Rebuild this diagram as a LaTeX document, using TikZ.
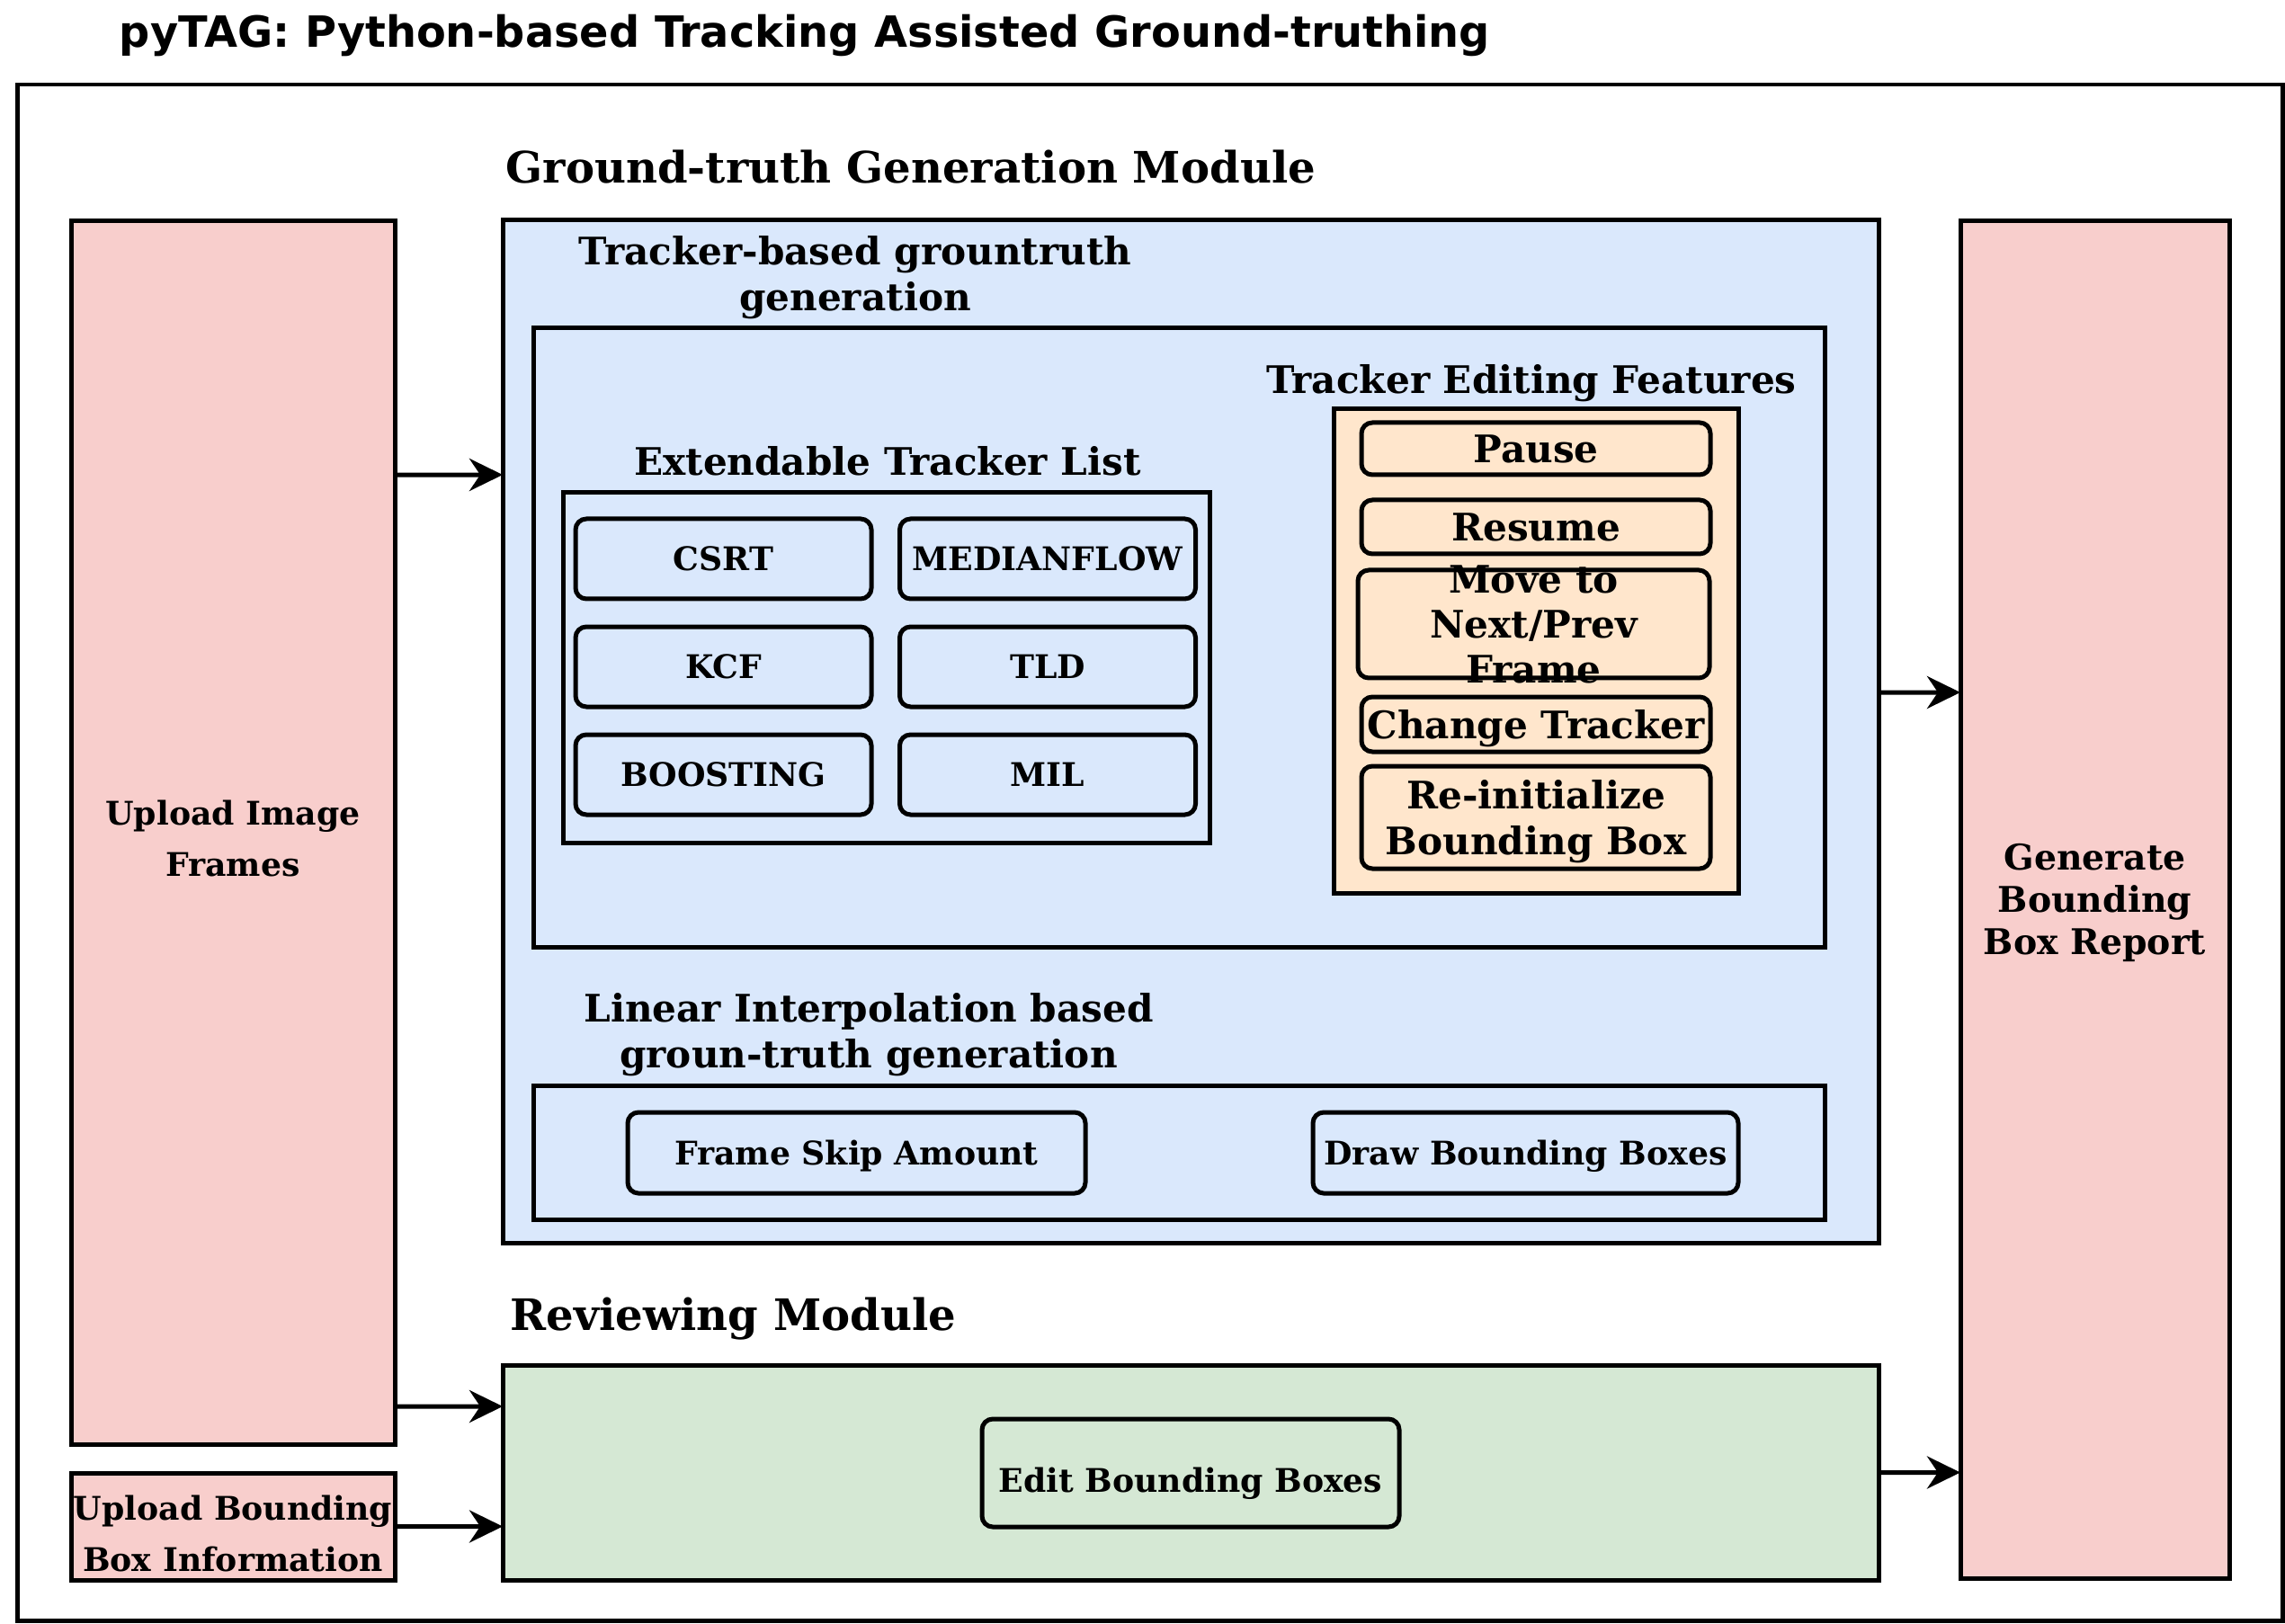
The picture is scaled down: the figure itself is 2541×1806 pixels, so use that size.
\documentclass[tikz,border=0pt]{standalone}
\usepackage{fontspec}
\setmainfont{DejaVu Serif}
\newfontfamily\titlefont{DejaVu Sans}
\usetikzlibrary{arrows.meta}
\definecolor{gtblue}{HTML}{DAE8FC}
\definecolor{iopink}{HTML}{F8CECC}
\definecolor{editpeach}{HTML}{FFE6CC}
\definecolor{revgreen}{HTML}{D5E8D4}
\begin{document}
\begin{tikzpicture}[x=0.1mm,y=-0.1mm,
    box/.style={draw,line width=0.5mm,inner sep=0pt,outer sep=0pt,align=center,text depth=0pt},
    btn/.style={box,rounded corners=1.2mm},
    lbl/.style={inner sep=0pt,align=center,text depth=0pt},
    arr/.style={line width=0.5mm,-{Stealth[length=3.7mm,width=3.6mm,inset=1.2mm]}},
    bigfont/.style={font=\bfseries\fontsize{13.7}{16.5}\selectfont},
    midfont/.style={font=\bfseries\fontsize{12}{14.3}\selectfont},
    smallfont/.style={font=\bfseries\fontsize{10.3}{12.5}\selectfont}]
  \useasboundingbox (0,0) rectangle (2541,1806);
  \node[inner sep=0pt,anchor=base,font=\titlefont\bfseries\fontsize{13.6}{16}\selectfont] (title) at (895,53) {pyTAG: Python-based Tracking Assisted Ground-truthing};
  \node[box,minimum width=251.9mm,minimum height=170.8mm] (frame) at (1278.5,948) {};
  \node[lbl,bigfont,anchor=west] (gtlbl) at (562,185) {Ground-truth Generation Module};
  \node[box,fill=gtblue,minimum width=153mm,minimum height=113.7mm] (gtm) at (1324,813.5) {};
  \node[box,fill=iopink,minimum width=36mm,minimum height=136.1mm,text height=27.7pt,font=\bfseries\fontsize{10.3}{16.2}\selectfont] (upimg) at (259,925.5) {Upload Image\\Frames};
  \node[box,fill=iopink,minimum width=36mm,minimum height=11.9mm,text height=28.6pt,font=\bfseries\fontsize{10.3}{16.2}\selectfont] (upbb) at (259,1697.5) {Upload Bounding\\Box Information};
  \node[box,fill=iopink,minimum width=29.9mm,minimum height=151mm,font=\bfseries\fontsize{11.2}{13.4}\selectfont] (report) at (2329.5,1000) {Generate\\Bounding\\Box Report};
  \node[lbl,midfont] (trklbl) at (951,304) {Tracker-based grountruth\\generation};
  \node[box,minimum width=143.6mm,minimum height=68.8mm] (trk) at (1311,709) {};
  \node[lbl,midfont] (editlbl) at (1703,421) {Tracker Editing Features};
  \node[box,fill=editpeach,minimum width=45mm,minimum height=53.8mm] (edit) at (1708,724) {};
  \node[btn,midfont,minimum width=38.8mm,minimum height=5.8mm] (pause) at (1708,499) {Pause};
  \node[btn,midfont,minimum width=38.8mm,minimum height=6mm] (resume) at (1708,586) {Resume};
  \node[btn,minimum width=39.1mm,minimum height=12mm] (move) at (1705.5,694) {};
  \node[lbl,midfont] (movetxt) at (move) {Move to\\Next/Prev\\Frame};
  \node[btn,midfont,minimum width=38.8mm,minimum height=6.1mm] (change) at (1708,805.5) {Change Tracker};
  \node[btn,midfont,minimum width=38.8mm,minimum height=11.4mm] (reinit) at (1708,909) {Re-initialize\\Bounding Box};
  \node[lbl,midfont] (lstlbl) at (987,512) {Extendable Tracker List};
  \node[box,minimum width=71.9mm,minimum height=38.9mm] (lst) at (985.5,742.5) {};
  \node[btn,smallfont,minimum width=32.9mm,minimum height=8.9mm] (csrt) at (804.5,621.5) {CSRT};
  \node[btn,smallfont,minimum width=32.9mm,minimum height=8.9mm] (medflow) at (1165,621.5) {MEDIANFLOW};
  \node[btn,smallfont,minimum width=32.9mm,minimum height=8.9mm] (kcf) at (804.5,741.5) {KCF};
  \node[btn,smallfont,minimum width=32.9mm,minimum height=8.9mm] (tld) at (1165,741.5) {TLD};
  \node[btn,smallfont,minimum width=32.9mm,minimum height=8.9mm] (boost) at (804.5,861.5) {BOOSTING};
  \node[btn,smallfont,minimum width=32.9mm,minimum height=8.9mm] (mil) at (1165,861.5) {MIL};
  \node[lbl,midfont] (linlbl) at (966,1146) {Linear Interpolation based\\groun-truth generation};
  \node[box,minimum width=143.6mm,minimum height=14.9mm] (lin) at (1311,1281.5) {};
  \node[btn,smallfont,minimum width=50.9mm,minimum height=9mm] (fskip) at (952.5,1282) {Frame Skip Amount};
  \node[btn,smallfont,minimum width=47.3mm,minimum height=9mm] (drawbb) at (1696.5,1282) {Draw Bounding Boxes};
  \node[lbl,bigfont,anchor=west] (revlbl) at (567,1461) {Reviewing Module};
  \node[box,fill=revgreen,minimum width=153mm,minimum height=23.9mm] (rev) at (1324,1637.5) {};
  \node[btn,smallfont,minimum width=46.4mm,minimum height=12mm,text height=12.4pt] (editbb) at (1324,1638) {Edit Bounding Boxes};
  \begin{scope}[arr]
    \draw ([yshift=-28.3mm]upimg.north east) -- ([yshift=-28.3mm]gtm.north west);
    \draw ([yshift=4.2mm]upimg.south east) -- ([yshift=7.35mm]rev.west);
    \draw (upbb.east) -- ([yshift=-6mm]rev.west);
    \draw ([yshift=4.35mm]gtm.east) -- ([yshift=23mm]report.west);
    \draw (rev.east) -- ([yshift=-63.75mm]report.west);
  \end{scope}
\end{tikzpicture}
\end{document}
